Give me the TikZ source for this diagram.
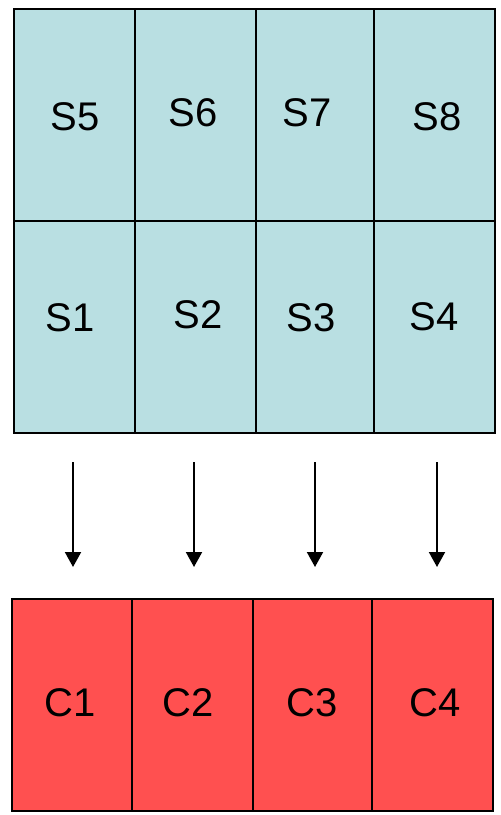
\documentclass[tikz,border=0pt]{standalone}
\usepackage{fontspec}
\setmainfont{Liberation Sans}
\usetikzlibrary{arrows.meta}
\definecolor{cellblue}{HTML}{B9DFE2}
\definecolor{cellred}{HTML}{FF5050}
\begin{document}
\begin{tikzpicture}[x=1pt,y=-1pt,
  cell/.style={draw=black,line width=2pt,inner sep=0pt,anchor=north west},
  lbl/.style={font=\fontsize{40}{40}\selectfont,inner sep=0pt},
  flow/.style={line width=2pt,-{Triangle[width=16pt,length=15pt]}}]
\useasboundingbox (0,0) rectangle (501,815);
% upper block of cells S1..S8
\foreach \n/\xa/\xb/\ya/\yb in {s5/13/134/8/220, s6/134/255/8/220, s7/255/373/8/220, s8/373/494/8/220,
                               s1/13/134/220/432, s2/134/255/220/432, s3/255/373/220/432, s4/373/494/220/432}
  \node[cell,fill=cellblue,minimum width={\xb-\xa},minimum height={\yb-\ya}] (\n) at (\xa,\ya) {};
% lower block of cells C1..C4
\foreach \n/\xa/\xb in {c1/11/131, c2/131/252, c3/252/371, c4/371/492}
  \node[cell,fill=cellred,minimum width={\xb-\xa},minimum height=212] (\n) at (\xa,598) {};
% labels
\node[lbl] (t5) at (75,117) {S5};
\node[lbl] (t6) at (193,113) {S6};
\node[lbl] (t7) at (307,113) {S7};
\node[lbl] (t8) at (437,117) {S8};
\node[lbl] (t1) at (70,318) {S1};
\node[lbl] (t2) at (198,315) {S2};
\node[lbl] (t3) at (311,318) {S3};
\node[lbl] (t4) at (434,317) {S4};
\node[lbl] (u1) at (70,703) {C1};
\node[lbl] (u2) at (188,703) {C2};
\node[lbl] (u3) at (312,703) {C3};
\node[lbl] (u4) at (435,703) {C4};
% arrows between the blocks
\foreach \i/\x in {1/73, 2/194, 3/315, 4/437} {
  \coordinate (from\i) at (\x,462);
  \coordinate (to\i) at (\x,567);
  \draw[flow] (from\i) -- (to\i);
}
\end{tikzpicture}
\end{document}
